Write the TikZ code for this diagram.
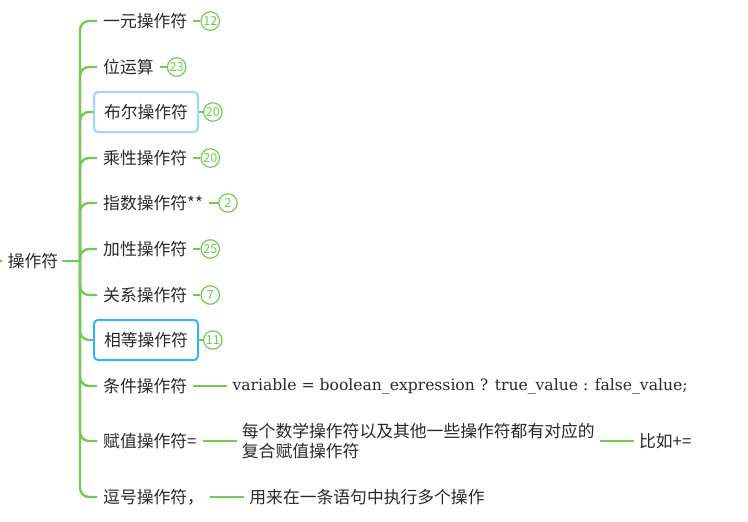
\documentclass[tikz,border=0pt]{standalone}
\usepackage{fontspec}
\setmainfont{Noto Sans CJK SC}
\newfontfamily\serifcode{DejaVu Serif}
\usetikzlibrary{positioning}
\definecolor{brgreen}{RGB}{118,200,86}
\definecolor{lightblue}{RGB}{158,216,248}
\definecolor{strongblue}{RGB}{50,180,240}
\definecolor{txt}{RGB}{40,40,40}
\tikzset{
  branch/.style={draw=brgreen, line width=2.4pt, rounded corners=9pt},
  topic/.style={inner xsep=6pt, inner ysep=4pt, anchor=west, text=txt, font=\fontsize{16.8}{20}\selectfont},
  boxed/.style={topic, inner xsep=10pt, inner ysep=11pt, rounded corners=4pt, line width=2pt, minimum height=40pt},
  badge/.style={circle, draw=brgreen, line width=1.2pt, text=brgreen, inner sep=0pt, minimum size=18.5pt, font=\fontsize{12.5}{12}\selectfont},
  badgeline/.style={draw=brgreen, line width=2pt},
  leaf/.style={inner xsep=5pt, inner ysep=2pt, text=txt, font=\fontsize{16.8}{20}\selectfont},
}
\begin{document}
\begin{tikzpicture}[x=1pt,y=-1pt]
\useasboundingbox (0,0) rectangle (748,522);
\fill[brgreen] (1,261) circle (1.6pt);
\node[topic, anchor=center, inner xsep=4pt] (root) at (33,261) {操作符};
\coordinate (trunk) at (80,261);
\draw[branch] (root.east) -- (trunk);

\node[topic] (c1) at (97,21) {一元操作符};
\node[topic] (c2) at (97,67) {位运算};
\node[boxed, draw=lightblue] (c3) at (93,112) {布尔操作符};
\node[topic] (c4) at (97,158) {乘性操作符};
\node[topic] (c5) at (97,203) {指数操作符**};
\node[topic] (c6) at (97,249) {加性操作符};
\node[topic] (c7) at (97,295) {关系操作符};
\node[boxed, draw=strongblue] (c8) at (93,340) {相等操作符};
\node[topic] (c9) at (97,386) {条件操作符};
\node[topic] (c10) at (97,441) {赋值操作符=};
\node[topic] (c11) at (97,497) {逗号操作符，};

\foreach \c in {c1,c2,c3,c4,c5,c6,c7,c8,c9,c10,c11}
  \draw[branch] (trunk) |- (\c.west);

\node[badge, right=7pt of c1] (b1) {12};
\node[badge, right=7pt of c2] (b2) {23};
\node[badge, right=4pt of c3] (b3) {20};
\node[badge, right=7pt of c4] (b4) {20};
\node[badge, right=9pt of c5] (b5) {2};
\node[badge, right=7pt of c6] (b6) {25};
\node[badge, right=7pt of c7] (b7) {7};
\node[badge, right=4pt of c8] (b8) {11};
\foreach \i in {1,...,8}
  \draw[badgeline] (c\i.east) -- (b\i.west);

\node[leaf, right=34pt of c9, font=\serifcode\fontsize{15.6}{20}\selectfont] (v9) {variable = boolean\_expression ? true\_value : false\_value;};
\node[leaf, right=34pt of c10, align=left] (v10) {每个数学操作符以及其他一些操作符都有对应的\\复合赋值操作符};
\node[leaf, right=34pt of v10] (v10b) {比如+=};
\node[leaf, right=34pt of c11] (v11) {用来在一条语句中执行多个操作};
\draw[badgeline, line width=2.4pt] (c9.east) -- (v9.west);
\draw[badgeline, line width=2.4pt] (c10.east) -- (v10.west);
\draw[badgeline, line width=2.4pt] (v10.east) -- (v10b.west);
\draw[badgeline, line width=2.4pt] (c11.east) -- (v11.west);
\end{tikzpicture}
\end{document}
